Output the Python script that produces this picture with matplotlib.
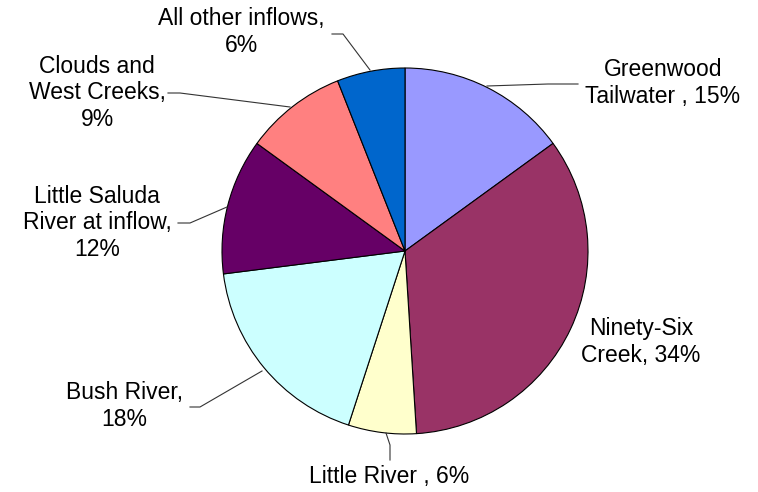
import matplotlib.pyplot as plt

plt.rcParams['font.family'] = ['Liberation Sans', 'DejaVu Sans']

# Share of total inflow by source (percent)
sources = ['Greenwood\nTailwater ', 'Ninety-Six\nCreek', 'Little River ', 'Bush River',
           'Little Saluda\nRiver at inflow', 'Clouds and\nWest Creeks', 'All other inflows']
shares = [15, 34, 6, 18, 12, 9, 6]
breaks = [', ', ', ', ', ', ',\n', ',\n', ',\n', ',\n']
colors = ['#9999FF', '#993366', '#FFFFCC', '#CCFFFF', '#660066', '#FF8080', '#0066CC']

# label centres and leader lines, in pixel coords from top-left
label_xy = [(663, 83), (641, 342), (389, 477), (124, 406), (97, 223), (97, 93), (241, 32)]
leaders = [
    [(578, 84), (548, 84), (487, 86)],
    None,
    [(390, 460), (390, 445), (386, 433)],
    [(190, 407), (200, 407), (262, 371)],
    [(178, 223), (190, 223), (227, 207)],
    [(168, 93), (180, 93), (290, 107)],
    [(332, 34), (343, 34), (370, 70)],
]

W, H = 758, 492
fig = plt.figure(figsize=(W / 100, H / 100), dpi=100)
ax = fig.add_axes([0, 0, 1, 1])

ax.pie(shares, colors=colors, startangle=90, counterclock=False,
       center=(405, H - 251), radius=183,
       wedgeprops=dict(edgecolor='black', linewidth=0.8))

# pie() sets its own limits, so put the pixel frame back afterwards
ax.set_xlim(0, W)
ax.set_ylim(0, H)
ax.set_aspect('equal')
ax.axis('off')

for name, val, sep, (x, y), line in zip(sources, shares, breaks, label_xy, leaders):
    ax.text(x, H - y, f'{name}{sep}{val}%', ha='center', va='center',
            fontsize=16.5, linespacing=1.2, color='black')
    if line:
        ax.plot([p[0] for p in line], [H - p[1] for p in line],
                color='#333333', linewidth=0.8)

fig.savefig('out.png', dpi=100)
